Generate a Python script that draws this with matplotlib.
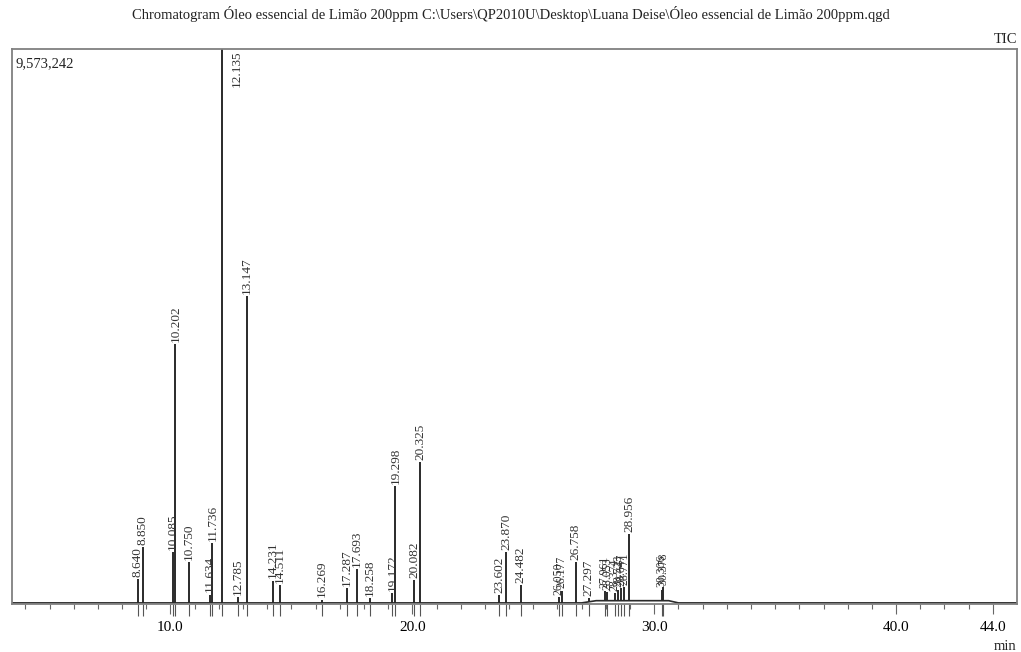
import numpy as np
import matplotlib.pyplot as plt

plt.rcParams['font.family'] = ['Liberation Serif', 'DejaVu Serif']

title = 'Chromatogram Óleo essencial de Limão 200ppm C:\\Users\\QP2010U\\Desktop\\Luana Deise\\Óleo essencial de Limão 200ppm.qgd'
max_intensity = '9,573,242'

# retention times (min) and relative peak heights (fraction of max TIC)
peak_times = [8.640, 8.850, 10.085, 10.202, 10.750, 11.634, 11.736, 12.135,
              12.785, 13.147, 14.231, 14.511, 16.269, 17.287, 17.693, 18.258,
              19.172, 19.298, 20.082, 20.325, 23.602, 23.870, 24.482, 26.050,
              26.177, 26.758, 27.297, 27.961, 28.053, 28.374, 28.523, 28.647,
              28.771, 28.956, 30.306, 30.378]
peak_heights = [0.043, 0.100, 0.092, 0.467, 0.074, 0.015, 0.108, 1.000,
                0.010, 0.553, 0.040, 0.032, 0.006, 0.027, 0.061, 0.009,
                0.018, 0.210, 0.041, 0.254, 0.014, 0.092, 0.032, 0.011,
                0.022, 0.074, 0.006, 0.018, 0.016, 0.014, 0.020, 0.022,
                0.025, 0.120, 0.020, 0.025]

# baseline drift
base_times = [3.45, 27.0, 27.6, 30.6, 31.0, 45.0]
base_levels = [0.002, 0.002, 0.006, 0.006, 0.002, 0.002]

fig = plt.figure(figsize=(10.21, 6.52), dpi=100)
ax = fig.add_axes([0.0118, 0.0736, 0.9843, 0.8512])
ax.set_xlim(3.45, 45.0)
ax.set_ylim(0, 1.0)

line_col = '#2a2a2a'
ax.plot(base_times, base_levels, color=line_col, lw=1.2)
base_at_peak = np.interp(peak_times, base_times, base_levels)
ax.vlines(peak_times, base_at_peak, base_at_peak + np.array(peak_heights),
          color=line_col, lw=1.4)

# peak markers below the baseline
ax.vlines(peak_times, -0.022, 0, color='#555555', lw=0.8, clip_on=False)

pt = np.array(peak_times)
for i, (t, h, b) in enumerate(zip(peak_times, peak_heights, base_at_peak)):
    lab = f'{t:.3f}'
    gaps = np.abs(pt - t)
    gaps[i] = 99
    # late crowded peaks get a slightly smaller label
    fs = 8.5 if (t > 25.9 and gaps.min() < 0.15) else 9.5
    if h > 0.9:
        ax.text(t + 0.62, 0.998, lab, rotation=90, ha='center', va='top',
                fontsize=fs, color='#333333')
    else:
        ax.text(t, b + h + 0.004, lab, rotation=90, ha='center', va='bottom',
                fontsize=fs, color='#333333')

for s in ax.spines.values():
    s.set_color('#808080')
    s.set_linewidth(1.3)

ax.set_xticks([10, 20, 30, 40, 44])
ax.set_xticklabels(['10.0', '20.0', '30.0', '40.0', '44.0'], fontsize=11)
ax.set_xticks(np.arange(4, 45, 1), minor=True)
ax.tick_params(axis='x', which='major', length=7, width=0.8, color='#666666', pad=5)
ax.tick_params(axis='x', which='minor', length=3.5, width=0.8, color='#666666')
ax.set_yticks([])

ax.text(0.003, 0.985, max_intensity, transform=ax.transAxes, ha='left', va='top',
        fontsize=10.5, color='#222222')
ax.text(1.0, 1.005, 'TIC', transform=ax.transAxes, ha='right', va='bottom',
        fontsize=10.5, color='#222222')
ax.text(0.999, -0.065, 'min', transform=ax.transAxes, ha='right', va='top',
        fontsize=10.5, color='#222222')
fig.text(0.5, 0.978, title, ha='center', va='center', fontsize=10.5, color='#222222')

fig.savefig('out.png', dpi=100, facecolor='white')
